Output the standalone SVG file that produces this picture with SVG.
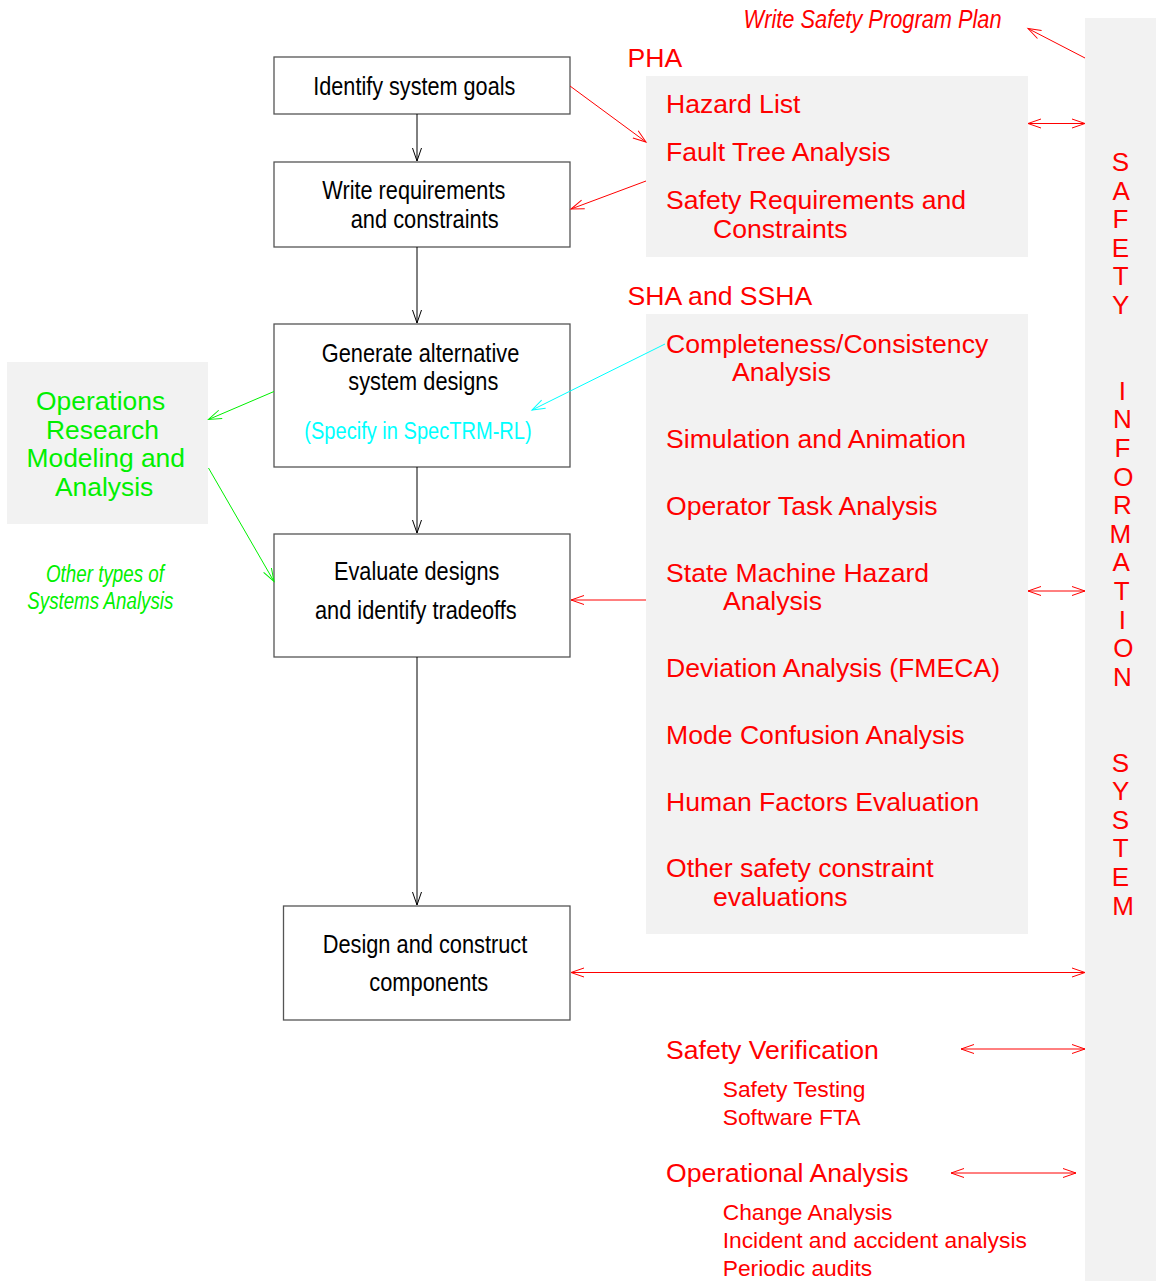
<svg xmlns="http://www.w3.org/2000/svg" width="1156" height="1281" viewBox="0 0 1156 1281">
<style>
  .panel { fill: #f2f2f2; stroke: none; }
  .box { fill: #ffffff; stroke: #555555; stroke-width: 1.3; }
  .bt { font-family: "Liberation Sans", Arial, sans-serif; font-size: 25px; fill: #000000; }
  .cy { font-family: "Liberation Sans", Arial, sans-serif; font-size: 23px; fill: #00ffff; }
  .rd { font-family: "Liberation Sans", Arial, sans-serif; font-size: 26.6px; fill: #ff0000; }
  .rs { font-family: "Liberation Sans", Arial, sans-serif; font-size: 22.8px; fill: #ff0000; }
  .gr { font-family: "Liberation Sans", Arial, sans-serif; font-size: 26.4px; fill: #00f000; }
  .gi { font-family: "Liberation Sans", Arial, sans-serif; font-size: 23px; font-style: italic; fill: #00f000; }
  .ri { font-family: "Liberation Sans", Arial, sans-serif; font-size: 25px; font-style: italic; fill: #ff0000; }
  .vt { font-family: "Liberation Sans", Arial, sans-serif; font-size: 26px; fill: #ff0000; text-anchor: middle; }
  .lk { fill: none; stroke: #000000; stroke-width: 1; }
  .lr { fill: none; stroke: #ff0000; stroke-width: 1; }
  .lg { fill: none; stroke: #00f000; stroke-width: 1; }
  .lc { fill: none; stroke: #00ffff; stroke-width: 1; }
</style>
<defs>
  <marker id="ak" markerUnits="userSpaceOnUse" markerWidth="16" markerHeight="12" refX="13" refY="4.5" orient="auto-start-reverse" overflow="visible">
    <path d="M0,0 L13,4.5 L0,9" fill="none" stroke="#000000" stroke-width="1"/>
  </marker>
  <marker id="ar" markerUnits="userSpaceOnUse" markerWidth="16" markerHeight="12" refX="13" refY="4.5" orient="auto-start-reverse" overflow="visible">
    <path d="M0,0 L13,4.5 L0,9" fill="none" stroke="#ff0000" stroke-width="1"/>
  </marker>
  <marker id="ag" markerUnits="userSpaceOnUse" markerWidth="16" markerHeight="12" refX="13" refY="4.5" orient="auto-start-reverse" overflow="visible">
    <path d="M0,0 L13,4.5 L0,9" fill="none" stroke="#00f000" stroke-width="1"/>
  </marker>
  <marker id="ac" markerUnits="userSpaceOnUse" markerWidth="16" markerHeight="12" refX="13" refY="4.5" orient="auto-start-reverse" overflow="visible">
    <path d="M0,0 L13,4.5 L0,9" fill="none" stroke="#00ffff" stroke-width="1"/>
  </marker>
</defs>

<rect width="1156" height="1281" fill="#ffffff"/>

<!-- Safety information system column -->
<g id="safety-info-system">
  <rect class="panel" x="1085" y="18" width="71" height="1263"/>
  <text class="vt">
    <tspan x="1124" y="171">S</tspan>
    <tspan x="1124" dy="28.6">A</tspan>
    <tspan x="1124" dy="28.6">F</tspan>
    <tspan x="1124" dy="28.6">E</tspan>
    <tspan x="1124" dy="28.6">T</tspan>
    <tspan x="1124" dy="28.6">Y</tspan>
    <tspan x="1126" dy="85.8">I</tspan>
    <tspan x="1126" dy="28.6">N</tspan>
    <tspan x="1126" dy="28.6">F</tspan>
    <tspan x="1127" dy="28.6">O</tspan>
    <tspan x="1126" dy="28.6">R</tspan>
    <tspan x="1124" dy="28.6">M</tspan>
    <tspan x="1124" dy="28.6">A</tspan>
    <tspan x="1125" dy="28.6">T</tspan>
    <tspan x="1126" dy="28.6">I</tspan>
    <tspan x="1127" dy="28.6">O</tspan>
    <tspan x="1126" dy="28.6">N</tspan>
    <tspan x="1124" dy="85.8">S</tspan>
    <tspan x="1124" dy="28.6">Y</tspan>
    <tspan x="1124" dy="28.6">S</tspan>
    <tspan x="1124" dy="28.6">T</tspan>
    <tspan x="1124" dy="28.6">E</tspan>
    <tspan x="1123" dy="28.6">M</tspan>
  </text>
</g>

<g id="write-safety-plan">
  <text class="ri" x="743.6" y="28" textLength="258" lengthAdjust="spacingAndGlyphs">Write Safety Program Plan</text>
</g>

<!-- PHA -->
<g id="pha">
  <text class="rd" x="627.5" y="67">PHA</text>
  <rect class="panel" x="646" y="76" width="382" height="181"/>
  <text class="rd" x="666" y="113">Hazard List</text>
  <text class="rd" x="666" y="161">Fault Tree Analysis</text>
  <text class="rd" x="666" y="209">Safety Requirements and</text>
  <text class="rd" x="713" y="238">Constraints</text>
</g>

<!-- SHA and SSHA -->
<g id="sha">
  <text class="rd" x="627.5" y="305">SHA and SSHA</text>
  <rect class="panel" x="646" y="314" width="382" height="620"/>
  <text class="rd" x="666" y="353">Completeness/Consistency</text>
  <text class="rd" x="732" y="381">Analysis</text>
  <text class="rd" x="666" y="448">Simulation and Animation</text>
  <text class="rd" x="666" y="515">Operator Task Analysis</text>
  <text class="rd" x="666" y="582">State Machine Hazard</text>
  <text class="rd" x="723" y="610">Analysis</text>
  <text class="rd" x="666" y="677">Deviation Analysis (FMECA)</text>
  <text class="rd" x="666" y="744">Mode Confusion Analysis</text>
  <text class="rd" x="666" y="811">Human Factors Evaluation</text>
  <text class="rd" x="666" y="877">Other safety constraint</text>
  <text class="rd" x="713" y="906">evaluations</text>
</g>

<!-- Safety verification -->
<g id="safety-verification">
  <text class="rd" x="666" y="1058.5">Safety Verification</text>
  <text class="rs" x="722.7" y="1097">Safety Testing</text>
  <text class="rs" x="722.7" y="1124.5">Software FTA</text>
</g>

<!-- Operational analysis -->
<g id="operational-analysis">
  <text class="rd" x="666" y="1182">Operational Analysis</text>
  <text class="rs" x="722.7" y="1220">Change Analysis</text>
  <text class="rs" x="722.7" y="1248.3">Incident and accident analysis</text>
  <text class="rs" x="722.7" y="1276">Periodic audits</text>
</g>

<!-- Operations research -->
<g id="operations-research">
  <rect class="panel" x="7" y="362" width="201" height="162"/>
  <text class="gr" x="36" y="410">Operations</text>
  <text class="gr" x="46" y="439">Research</text>
  <text class="gr" x="26.5" y="467">Modeling and</text>
  <text class="gr" x="55" y="496">Analysis</text>
</g>

<g id="other-systems-analysis">
  <text class="gi" x="46" y="581.7" textLength="118" lengthAdjust="spacingAndGlyphs">Other types of</text>
  <text class="gi" x="27.3" y="609.3" textLength="146" lengthAdjust="spacingAndGlyphs">Systems Analysis</text>
</g>

<!-- Process boxes -->
<g id="identify-goals">
  <rect class="box" x="274" y="57" width="296" height="57"/>
  <text class="bt" x="313.3" y="94.5" textLength="202" lengthAdjust="spacingAndGlyphs">Identify system goals</text>
</g>

<g id="write-requirements">
  <rect class="box" x="274" y="162" width="296" height="85"/>
  <text class="bt" x="322.3" y="198.5" textLength="183" lengthAdjust="spacingAndGlyphs">Write requirements</text>
  <text class="bt" x="350.7" y="228.3" textLength="148" lengthAdjust="spacingAndGlyphs">and constraints</text>
</g>

<g id="generate-designs">
  <rect class="box" x="274" y="324" width="296" height="143"/>
  <text class="bt" x="321.7" y="361.7" textLength="197.6" lengthAdjust="spacingAndGlyphs">Generate alternative</text>
  <text class="bt" x="348.3" y="390" textLength="150" lengthAdjust="spacingAndGlyphs">system designs</text>
  <text class="cy" x="304.3" y="439" textLength="227.4" lengthAdjust="spacingAndGlyphs">(Specify in SpecTRM-RL)</text>
</g>

<g id="evaluate-designs">
  <rect class="box" x="274" y="534" width="296" height="123"/>
  <text class="bt" x="334" y="579.5" textLength="165.3" lengthAdjust="spacingAndGlyphs">Evaluate designs</text>
  <text class="bt" x="315" y="618.5" textLength="201.7" lengthAdjust="spacingAndGlyphs">and identify tradeoffs</text>
</g>

<g id="design-construct">
  <rect class="box" x="283.5" y="906" width="286.5" height="114"/>
  <text class="bt" x="322.7" y="953.3" textLength="204.6" lengthAdjust="spacingAndGlyphs">Design and construct</text>
  <text class="bt" x="369.3" y="990.7" textLength="119" lengthAdjust="spacingAndGlyphs">components</text>
</g>

<!-- Connectors -->
<g id="connectors">
  <path class="lk" d="M417,114 V161" marker-end="url(#ak)"/>
  <path class="lk" d="M417,247 V323" marker-end="url(#ak)"/>
  <path class="lk" d="M417,467 V533" marker-end="url(#ak)"/>
  <path class="lk" d="M417,657 V905" marker-end="url(#ak)"/>

  <path class="lr" d="M570,86 L646,142" marker-end="url(#ar)"/>
  <path class="lr" d="M646,181 L571,209" marker-end="url(#ar)"/>
  <path class="lr" d="M1085,58 L1028,28.5" marker-end="url(#ar)"/>
  <path class="lr" d="M1028,123.5 L1085,123.5" marker-start="url(#ar)" marker-end="url(#ar)"/>
  <path class="lr" d="M646,600 L571,600" marker-end="url(#ar)"/>
  <path class="lr" d="M1028,591 L1085,591" marker-start="url(#ar)" marker-end="url(#ar)"/>
  <path class="lr" d="M571,972.5 L1085,972.5" marker-start="url(#ar)" marker-end="url(#ar)"/>
  <path class="lr" d="M961,1049 L1085,1049" marker-start="url(#ar)" marker-end="url(#ar)"/>
  <path class="lr" d="M951,1173 L1076,1173" marker-start="url(#ar)" marker-end="url(#ar)"/>

  <path class="lc" d="M665,344 L532,410" marker-end="url(#ac)"/>

  <path class="lg" d="M274,391.5 L208.5,419.5" marker-end="url(#ag)"/>
  <path class="lg" d="M208.5,468 L274,581.5" marker-end="url(#ag)"/>
</g>
</svg>
